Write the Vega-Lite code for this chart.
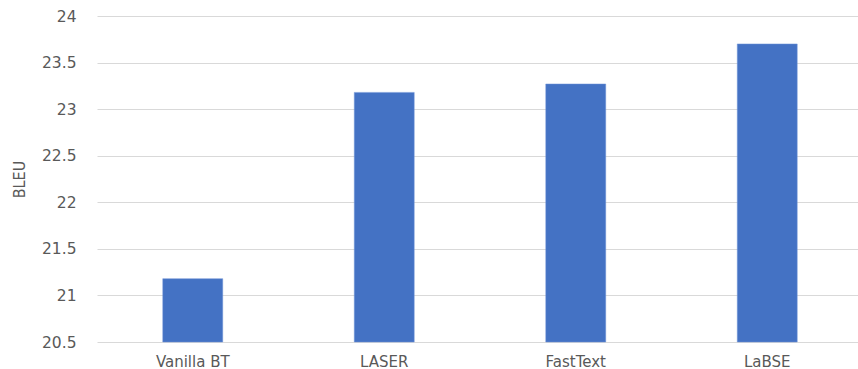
{
  "$schema": "https://vega.github.io/schema/vega-lite/v6.json",
  "autosize": {"type": "none"},
  "padding": {"left": 97, "top": 16, "right": 0, "bottom": 27},
  "width": 766,
  "height": 326,
  "background": "white",
  "data": {
    "values": [
      {"method": "Vanilla BT", "bleu": 21.18},
      {"method": "LASER", "bleu": 23.18},
      {"method": "FastText", "bleu": 23.27},
      {"method": "LaBSE", "bleu": 23.7}
    ]
  },
  "mark": {"type": "bar", "color": "#4472C4", "stroke": "#6f93d6", "strokeWidth": 0.5},
  "encoding": {
    "x": {
      "field": "method",
      "type": "nominal",
      "sort": null,
      "scale": {"paddingInner": 0.687, "paddingOuter": 0.3435},
      "axis": {
        "title": null,
        "labelAngle": 0,
        "labelFont": "DejaVu Sans",
        "labelFontSize": 15,
        "labelColor": "#595959",
        "labelPadding": 12,
        "ticks": false,
        "domain": false,
        "grid": false
      }
    },
    "y": {
      "field": "bleu",
      "type": "quantitative",
      "scale": {"domain": [20.5, 24], "zero": false, "nice": false},
      "axis": {
        "title": "BLEU",
        "titleFont": "DejaVu Sans Condensed",
        "titleFontWeight": "normal",
        "titleFontSize": 16,
        "titleColor": "#595959",
        "titlePadding": 14,
        "values": [20.5, 21, 21.5, 22, 22.5, 23, 23.5, 24],
        "format": "~g",
        "labelFont": "DejaVu Sans",
        "labelFontSize": 15.5,
        "labelColor": "#595959",
        "labelPadding": 21,
        "ticks": false,
        "domain": false,
        "grid": true,
        "gridColor": "#d9d9d9",
        "gridWidth": 1
      }
    },
    "y2": {"datum": 20.5}
  },
  "config": {"view": {"stroke": null}}
}
